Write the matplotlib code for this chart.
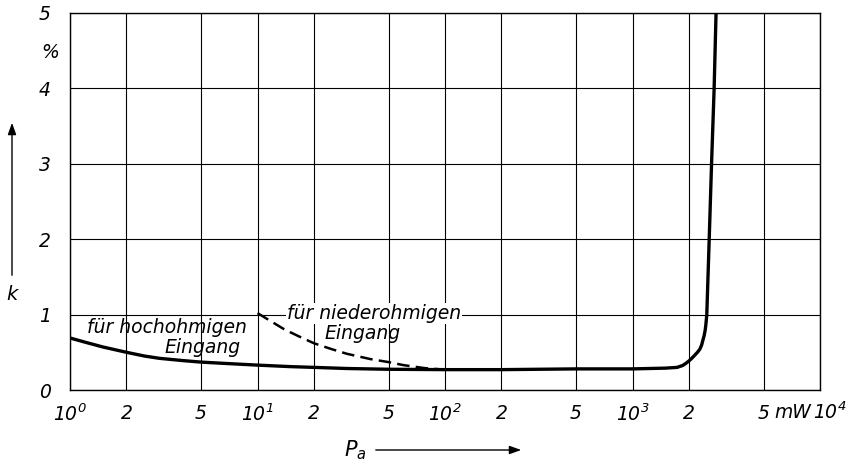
import numpy as np
import matplotlib
matplotlib.use('Agg')
import matplotlib.pyplot as plt
from matplotlib.patches import FancyArrowPatch

plt.rcParams['font.family'] = ['DejaVu Sans']
plt.rcParams['font.style'] = 'italic'
plt.rcParams['mathtext.fontset'] = 'dejavusans'
plt.rcParams['mathtext.default'] = 'it'

# main curve: fuer hochohmigen Eingang
p_hoch = [1, 1.2, 1.5, 2, 2.5, 3, 4, 5, 7, 10, 15, 20, 30, 50, 100, 200, 500,
          1000, 1500, 1730, 1850, 1918, 2000, 2070, 2145, 2220, 2285, 2340, 2373,
          2410, 2440, 2460, 2480, 2490, 2565, 2640, 2725, 2790]
k_hoch = [0.69, 0.635, 0.57, 0.50, 0.45, 0.42, 0.39, 0.37, 0.35, 0.33, 0.31, 0.30,
          0.285, 0.275, 0.27, 0.27, 0.28, 0.28, 0.29, 0.30, 0.325, 0.35, 0.385, 0.42,
          0.46, 0.50, 0.54, 0.60, 0.66, 0.72, 0.79, 0.86, 0.95, 1.0, 2.0, 3.0, 4.0, 5.0]

# dashed curve: fuer niederohmigen Eingang
p_nieder = [10, 12, 14, 17, 20, 25, 30, 40, 50, 60, 78, 100]
k_nieder = [1.02, 0.90, 0.80, 0.70, 0.62, 0.54, 0.48, 0.41, 0.37, 0.33, 0.29, 0.27]

x_ticks = [1, 2, 5, 10, 20, 50, 100, 200, 500, 1000, 2000, 5000, 10000]
x_labels = ['$10^{0}$', '2', '5', '$10^{1}$', '2', '5', '$10^{2}$', '2', '5',
            '$10^{3}$', '2', '5', '']
y_ticks = [0, 1, 2, 3, 4, 5]

W, H = 857, 465


def px(x, y):
    # pixel position -> figure fraction
    return x / W, 1 - y / H


def main():
    fig = plt.figure(figsize=(W / 100, H / 100), dpi=100)
    ax = fig.add_axes([70 / W, 1 - 390 / H, 750 / W, 377 / H])

    ax.set_xscale('log')
    ax.set_xlim(1, 10000)
    ax.set_ylim(0, 5)
    ax.xaxis.set_minor_locator(matplotlib.ticker.NullLocator())
    ax.set_xticks(x_ticks)
    ax.set_xticklabels(x_labels)
    ax.set_yticks(y_ticks)
    ax.tick_params(length=0, labelsize=13.5)
    ax.tick_params(axis='x', pad=10)
    ax.tick_params(axis='y', pad=14)
    ax.grid(True, color='black', lw=0.8)
    for s in ax.spines.values():
        s.set_linewidth(1.0)

    ax.plot(p_hoch, k_hoch, color='black', lw=2.4, solid_joinstyle='round', zorder=3)
    ax.plot(p_nieder, k_nieder, color='black', lw=1.8, dashes=(5, 2.5), zorder=3)

    ax.text(1.23, 0.756, 'für hochohmigen', fontsize=13.5, ha='left', va='baseline')
    ax.text(3.21, 0.49, 'Eingang', fontsize=13.5, ha='left', va='baseline')
    ax.text(14.4, 0.94, 'für niederohmigen', fontsize=13.5, ha='left', va='baseline',
            bbox=dict(facecolor='white', edgecolor='none', pad=0.5))
    ax.text(22.7, 0.68, 'Eingang', fontsize=13.5, ha='left', va='baseline')

    fig.text(*px(793, 412), 'mW', fontsize=13.5, ha='center', va='center')
    fig.text(*px(830, 412), '$10^{4}$', fontsize=13.5, ha='center', va='center')
    fig.text(*px(50, 52), '%', fontsize=13.5, ha='center', va='center')

    # axis labels with arrows
    fig.text(*px(12, 295), 'k', fontsize=14, ha='center', va='center')
    fig.patches.append(FancyArrowPatch(
        px(12, 278), px(12, 120), transform=fig.transFigure,
        arrowstyle='-|>,head_length=7,head_width=2.5', color='black', lw=1.0))
    fig.text(*px(355, 450), '$P_a$', fontsize=15, ha='center', va='center')
    fig.patches.append(FancyArrowPatch(
        px(373, 450), px(524, 450), transform=fig.transFigure,
        arrowstyle='-|>,head_length=7,head_width=2.5', color='black', lw=1.0))

    fig.savefig('out.png', dpi=100)


if __name__ == '__main__':
    main()
